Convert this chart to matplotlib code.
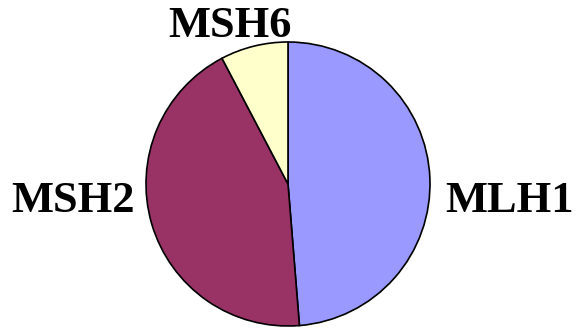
import matplotlib.pyplot as plt

labels = ['MLH1', 'MSH2', 'MSH6']
counts = [19, 17, 3]
colors = ['#9999FF', '#993366', '#FFFFCC']
label_pos = [(510, 201), (73, 201), (230, 26)]   # pixel centres of the labels

W, H = 579, 329
fig = plt.figure(figsize=(W / 100, H / 100), dpi=100)

cx, cy, r = 288, 184, 142
ax = fig.add_axes([(cx - r) / W, (H - cy - r) / H, 2 * r / W, 2 * r / H])
ax.pie(counts, colors=colors, startangle=90, counterclock=False,
       wedgeprops={'edgecolor': 'black', 'linewidth': 1.2})
ax.set_xlim(-1, 1)
ax.set_ylim(-1, 1)
ax.set_aspect('equal')
ax.axis('off')

for lab, (px, py) in zip(labels, label_pos):
    fig.text(px / W, 1 - py / H, lab, ha='center', va='center',
             fontsize=32, fontweight='bold', family='Liberation Serif')

fig.savefig('out.png', dpi=100)
